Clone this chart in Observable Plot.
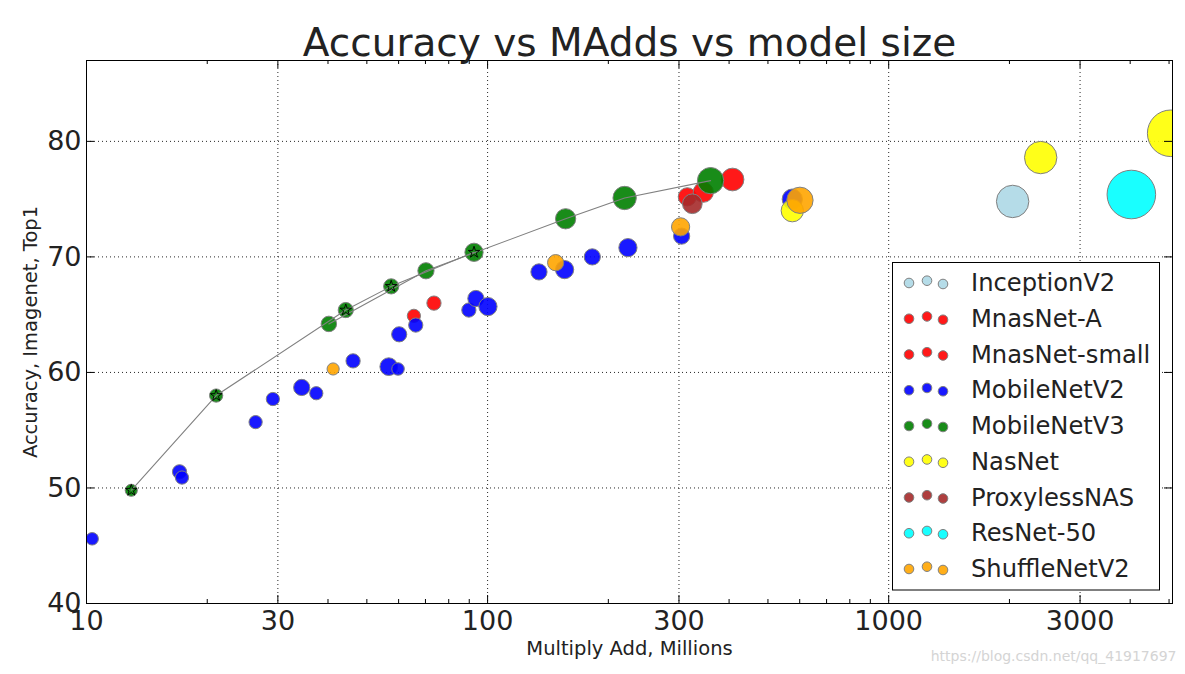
<!DOCTYPE html>
<html>
<head>
<meta charset="utf-8">
<script src="https://cdn.jsdelivr.net/npm/d3@7"></script>
<script src="https://cdn.jsdelivr.net/npm/@observablehq/plot@0.6"></script>
<style>
  html, body { margin: 0; padding: 0; background: #fff; }
  svg { display: block; }
</style>
</head>
<body>
<div id="chart"></div>
<script>
// ---- data -------------------------------------------------------------
// each row: [Multiply-Adds (millions), ImageNet top-1 accuracy, model size (M params)]
const modelNames  = ["InceptionV2", "MnasNet-A", "MnasNet-small", "MobileNetV2", "MobileNetV3",
                     "NasNet", "ProxylessNAS", "ResNet-50", "ShuffleNetV2"];
const modelColors = ["lightblue", "red", "red", "blue", "green", "yellow", "brown", "cyan", "orange"];

const inceptionV2 = [[2037, 74.8, 11.4]];
const mnasNetA = [[314.8, 75.2, 3.6], [345, 75.6, 4.45], [408, 76.7, 5.6]];
const mnasNetSmall = [[65.5, 64.9, 1.9], [73.5, 66.0, 2.2]];
const mobileNetV2 = [
  [10.33, 45.6, 1.7], [17.06, 51.4, 2.2], [17.3, 50.9, 1.9], [26.4, 55.7, 1.9],
  [29.15, 57.7, 1.9], [34.4, 58.7, 2.85], [37.4, 58.2, 1.9], [46.2, 61.0, 2.2],
  [56.7, 60.5, 3.4], [59.8, 60.3, 1.7], [60.2, 63.3, 2.5], [66.2, 64.1, 2.2],
  [89.8, 65.4, 2.2], [93.5, 66.4, 2.85], [100.2, 65.7, 3.6], [134.3, 68.7, 2.85],
  [155.6, 68.9, 3.6], [182.4, 70.0, 2.85], [223.8, 70.8, 3.6], [304.6, 71.8, 2.85],
  [575, 75.0, 4.45]
];
const mobileNetV3Large = [[40.2, 64.2, 2.6], [70.2, 68.8, 2.85], [156.5, 73.3, 4.45], [219.6, 75.1, 5.9], [359.7, 76.6, 7.5]];
const mobileNetV3Small = [[12.93, 49.8, 1.6], [21.05, 58.0, 1.9], [44.3, 65.4, 2.5], [57.5, 67.45, 2.5], [92.5, 70.4, 3.6]];
const nasNet = [[575, 74.0, 5.4], [2393, 78.6, 11.4], [5047, 80.7, 23.5]];
const proxylessNAS = [[323.9, 74.6, 4.2]];
const resNet50 = [[4027, 75.4, 25.6]];
const shuffleNetV2 = [[41.2, 60.3, 1.6], [147.8, 69.5, 2.85], [302.8, 72.6, 3.6], [600.8, 74.9, 7.5]];

const xTicks = [10, 30, 100, 300, 1000, 3000];
const xMinorTicks = [20, 40, 50, 60, 70, 80, 90, 200, 400, 500, 600, 700, 800, 900, 2000, 4000, 5000];
const yTicks = [40, 50, 60, 70, 80];

const titleText = "Accuracy vs MAdds vs model size";
const xLabel = "Multiply Add, Millions";
const yLabel = "Accuracy, Imagenet, Top1";
const watermark = "https://blog.csdn.net/qq_41917697";

// ---- table --------------------------------------------------------------
const toRows = (model, arr) => arr.map(([madds, acc, size]) => ({model, madds, acc, size}));
const points = [
  ...toRows("InceptionV2", inceptionV2),
  ...toRows("MnasNet-A", mnasNetA),
  ...toRows("MnasNet-small", mnasNetSmall),
  ...toRows("MobileNetV2", mobileNetV2),
  ...toRows("MobileNetV3", [...mobileNetV3Large, ...mobileNetV3Small]),
  ...toRows("NasNet", nasNet),
  ...toRows("ProxylessNAS", proxylessNAS),
  ...toRows("ResNet-50", resNet50),
  ...toRows("ShuffleNetV2", shuffleNetV2)
];
const v3Small = toRows("MobileNetV3", mobileNetV3Small);
const v3Large = toRows("MobileNetV3", mobileNetV3Large);

// ---- layout -------------------------------------------------------------
const W = 1185, H = 674;
const mL = 86, mR = 13, mT = 60, mB = 71;
const plotW = W - mL - mR, plotH = H - mT - mB;
const ink = "#222";
const grid = {stroke: "#000", strokeOpacity: 0.85, strokeDasharray: "1,3", strokeWidth: 1};

const chart = Plot.plot({
  width: W, height: H,
  marginLeft: mL, marginRight: mR, marginTop: mT, marginBottom: mB,
  style: {fontFamily: "DejaVu Sans, sans-serif", background: "#fff", color: ink},
  x: {type: "log", domain: [10, 5100]},
  y: {domain: [40, 87]},
  r: {type: "sqrt", domain: [0, 25.6], range: [0, 24.3]},
  color: {domain: modelNames, range: modelColors},
  marks: [
    Plot.gridX(xTicks, grid),
    Plot.gridY(yTicks, grid),
    Plot.dot(points, {
      x: "madds", y: "acc", r: "size", fill: "model", fillOpacity: 0.9,
      stroke: "#808080", strokeWidth: 1, sort: null, clip: true
    }),
    Plot.line(v3Small, {x: "madds", y: "acc", stroke: "#808080", strokeWidth: 1.1}),
    Plot.line(v3Large, {x: "madds", y: "acc", stroke: "#808080", strokeWidth: 1.1}),
    Plot.dot(v3Small, {x: "madds", y: "acc", symbol: "star", r: 3.6, stroke: "#000", strokeWidth: 0.9, fill: "none"}),
    Plot.frame({stroke: "#000", strokeWidth: 1}),
    // inward tick marks (classic matplotlib style)
    Plot.ruleX(xTicks, {x: d => d, insetTop: plotH - 8, stroke: "#000"}),
    Plot.ruleX(xTicks, {x: d => d, insetBottom: plotH - 8, stroke: "#000"}),
    Plot.ruleX(xMinorTicks, {x: d => d, insetTop: plotH - 4, stroke: "#000"}),
    Plot.ruleX(xMinorTicks, {x: d => d, insetBottom: plotH - 4, stroke: "#000"}),
    Plot.ruleY(yTicks, {y: d => d, insetRight: plotW - 8, stroke: "#000"}),
    Plot.ruleY(yTicks, {y: d => d, insetLeft: plotW - 8, stroke: "#000"}),
    Plot.axisX(xTicks, {tickSize: 0, tickPadding: 7, fontSize: 27, fill: ink, tickFormat: d => `${d}`, label: null}),
    Plot.axisY(yTicks, {tickSize: 0, tickPadding: 5, fontSize: 27, fill: ink, tickFormat: d => `${d}`, label: null}),
    Plot.text([titleText], {text: d => d, frameAnchor: "top", dy: -17, textAnchor: "middle", lineAnchor: "middle", fontSize: 39, fill: ink}),
    Plot.text([xLabel], {text: d => d, frameAnchor: "bottom", dy: 45, textAnchor: "middle", lineAnchor: "middle", fontSize: 19.5, fill: ink}),
    Plot.text([yLabel], {text: d => d, frameAnchor: "left", dx: -56, rotate: -90, textAnchor: "middle", lineAnchor: "middle", fontSize: 19.5, fill: ink}),
    Plot.text([watermark], {text: d => d, frameAnchor: "bottom-right", dx: 4, dy: 53, textAnchor: "end", lineAnchor: "middle", fontSize: 14, fill: "#d4d4d4"})
  ]
});

// ---- legend (inside the plot, lower right) --------------------------------
const color = chart.scale("color");
const svg = d3.select(chart);
const lg = svg.append("g")
  .attr("font-family", "DejaVu Sans, sans-serif")
  .attr("text-anchor", "start");
lg.append("rect")
  .attr("x", 892.5).attr("y", 262.5).attr("width", 267).attr("height", 327.5)
  .attr("fill", "#fff").attr("stroke", "#000").attr("stroke-width", 1);
const rowH = 35.75, row0 = 283;
const dotX = [909, 927, 943], dotDy = [0, -2.3, 1];
modelNames.forEach((name, i) => {
  const cy = row0 + i * rowH;
  dotX.forEach((x, j) => {
    lg.append("circle").attr("cx", x).attr("cy", cy + dotDy[j]).attr("r", 4.8)
      .attr("fill", color.apply(name)).attr("fill-opacity", 0.9)
      .attr("stroke", "#808080").attr("stroke-width", 1);
  });
  lg.append("text").attr("x", 971).attr("y", cy + 8)
    .attr("text-anchor", "start")
    .attr("font-size", 24.2).attr("fill", ink).text(name);
});

document.getElementById("chart").append(chart);
</script>
</body>
</html>
